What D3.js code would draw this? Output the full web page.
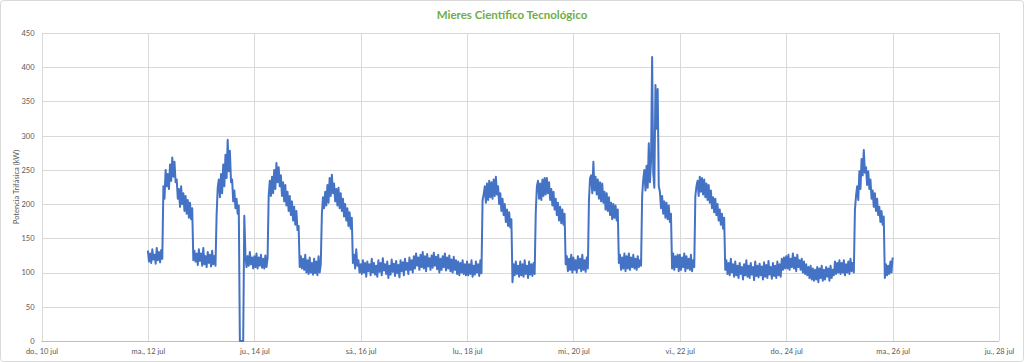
<!DOCTYPE html>
<meta charset="utf-8">
<script src="https://cdn.jsdelivr.net/npm/d3@7"></script>

<style>
  body { margin: 0; background: #fff; }
  .grid line { stroke: #d9d9d9; stroke-width: 1; shape-rendering: crispEdges; }
  .axis text { font-family: Lato, "Open Sans", sans-serif; font-size: 7.5px; fill: #595959; }
  .axis path, .axis line { display: none; }
</style>

<svg></svg>

<script>

// DATA - readings (kW) every 30 min (hh:00, hh:30 per hour)

var jul12 = [132,116, 128,114, 134,119, 126,113, 136,118, 130,115, 133,120,
             226,208, 250,226, 244,222, 258,234, 268,240, 262,232, 236,208, 222,196, 226,200, 216,190, 212,186, 206,180, 202,178,
             194,118, 132,116, 128,111, 134,117];
var jul13 = [128,110, 136,112, 124,108, 130,114, 126,109, 132,112, 124,110,
             184,224, 236,210, 244,216, 258,226, 272,238, 294,248, 278,232, 236,204, 220,194, 208,186, 198,0, 0,0, 0,183,
             126,108, 124,110, 130,112, 122,106];
var jul14 = [124,108, 128,106, 122,110, 126,107, 120,106, 125,108, 121,212,
             234,212, 240,216, 250,222, 260,232, 254,226, 242,212, 232,204, 228,198, 218,190, 212,184, 204,176, 196,170, 190,162,
             168,108, 124,106, 120,104, 126,100];
var jul15 = [118,98, 122,100, 114,97, 120,99, 116,96, 124,100, 112,186,
             210,194, 218,198, 228,202, 238,212, 243,216, 230,204, 222,198, 224,194, 216,190, 208,182, 200,176, 194,168, 188,164,
             180,114, 126,106, 134,110, 118,100];
var jul16 = [112,98, 118,100, 114,94, 116,102, 112,96, 120,100, 114,97, 110,94, 118,101, 114,96, 121,103, 112,98,
             116,92, 110,97, 119,101, 113,95, 117,99, 111,93, 118,102, 115,96, 120,104, 114,98, 122,104, 118,100];
var jul17 = [124,106, 128,110, 122,104, 126,108, 130,106, 124,102, 127,109, 121,104, 125,107, 129,110, 123,105, 126,100,
             120,104, 124,108, 128,103, 122,106, 125,102, 119,100, 123,104, 118,98, 116,96, 114,100, 118,98, 112,96];
var jul18 = [116,96, 112,98, 118,94, 110,97, 116,100, 112,95, 118,99,
             206,214, 226,202, 230,206, 234,210, 232,208, 236,212, 240,214, 226,200, 216,190, 208,184, 200,174, 192,168, 188,166,
             178,86, 112,96, 116,98, 110,94];
var jul19 = [116,96, 112,94, 118,98, 110,92, 116,97, 112,95, 114,98,
             188,226, 234,208, 230,206, 236,212, 238,214, 238,216, 232,206, 222,198, 218,192, 208,184, 202,176, 196,172, 192,170,
             186,112, 124,102, 120,104, 126,100];
var jul20 = [122,104, 118,100, 124,106, 120,102, 126,104, 118,101, 122,106,
             206,238, 242,216, 262,220, 240,214, 236,208, 232,204, 230,202, 218,192, 216,190, 210,184, 202,178, 200,180, 198,176,
             192,114, 126,104, 122,106, 128,102];
var jul21 = [124,106, 128,104, 122,108, 126,106, 120,104, 124,108, 118,110,
             212,236, 250,220, 256,224, 289,232, 262,415, 246,224, 374,310, 368,226, 218,194, 212,186, 204,180, 202,178, 198,174,
             186,106, 128,104, 124,108, 126,102];
var jul22 = [126,104, 122,108, 128,102, 124,106, 120,104, 126,102, 118,108,
             212,226, 234,212, 240,218, 238,214, 236,210, 230,206, 228,202, 220,194, 210,188, 208,184, 200,176, 192,170, 186,164,
             180,104, 118,98, 114,96, 120,100];
var jul23 = [112,94, 116,96, 110,92, 114,98, 108,90, 112,96, 118,94, 110,92, 114,97, 108,89, 116,95, 110,93,
             113,96, 109,90, 115,94, 111,92, 117,97, 108,91, 114,95, 110,92, 116,96, 112,94, 120,104, 122,106];
var jul24 = [124,106, 126,104, 120,108, 128,106, 122,102, 126,108, 118,104, 120,100, 116,98, 112,96, 108,92, 110,90,
             106,88, 104,90, 108,86, 106,92, 110,88, 104,90, 108,94, 106,88, 110,92, 104,96, 116,98, 114,100];
var jul25 = [118,98, 114,100, 118,96, 112,100, 116,98, 120,102, 114,100,
             192,212, 226,206, 248,222, 266,242, 279,246, 254,228, 248,222, 236,208, 220,196, 216,190, 208,184, 196,174, 190,170,
             182,92, 112,96, 110,98, 116,100];
var jul26 = [122];

var days = [jul12, jul13, jul14, jul15, jul16, jul17, jul18, jul19, jul20, jul21, jul22, jul23, jul24, jul25, jul26];

var yTicks = [0, 50, 100, 150, 200, 250, 300, 350, 400, 450];
var xTickLabels = ["do., 10 jul", "ma., 12 jul", "ju., 14 jul", "sá., 16 jul", "lu., 18 jul",
                   "mi., 20 jul", "vi., 22 jul", "do., 24 jul", "ma., 26 jul", "ju., 28 jul"];
var xTickDays = [10, 12, 14, 16, 18, 20, 22, 24, 26, 28];

var title = "Mieres Científico Tecnológico";
var yTitle = "Potencia Trifásica (kW)";


// GLOBALS

var width = 1024;
var height = 362;

var plot = { left: 41.5, right: 999, top: 33, bottom: 341 };

var series = [];
days.forEach(function(day, i) {
  day.forEach(function(v, k) {
    series.push({ date: new Date(2022, 6, 12 + i, 0, 30 * k), value: v });
  });
});


// SVG SETUP

var svg = d3.select("svg")
    .attr("width", width)
    .attr("height", height);

svg.append("rect")
    .attr("x", 0.5)
    .attr("y", 0.5)
    .attr("width", width - 1)
    .attr("height", height - 1)
    .attr("rx", 3)
    .attr("fill", "#fff")
    .attr("stroke", "#d9d9d9");


// SCALES

var xScale = d3.scaleTime()
    .domain([new Date(2022, 6, 10), new Date(2022, 6, 28)])
    .range([plot.left, plot.right]);

var yScale = d3.scaleLinear()
    .domain([0, 450])
    .range([plot.bottom, plot.top]);

var xTicks = xTickDays.map(function(d) { return new Date(2022, 6, d); });


// GRID

svg.append("g")
    .attr("class", "grid")
    .selectAll("line")
    .data(yTicks)
    .enter().append("line")
        .attr("x1", plot.left)
        .attr("x2", plot.right)
        .attr("y1", function(d) { return Math.round(yScale(d)) + 0.5; })
        .attr("y2", function(d) { return Math.round(yScale(d)) + 0.5; });

svg.append("g")
    .attr("class", "grid")
    .selectAll("line")
    .data(xTicks)
    .enter().append("line")
        .attr("x1", function(d) { return Math.round(xScale(d)) + 0.5; })
        .attr("x2", function(d) { return Math.round(xScale(d)) + 0.5; })
        .attr("y1", plot.top)
        .attr("y2", plot.bottom);

// bottom axis line
svg.append("line")
    .attr("x1", plot.left)
    .attr("x2", plot.right)
    .attr("y1", plot.bottom + 0.5)
    .attr("y2", plot.bottom + 0.5)
    .attr("stroke", "#bfbfbf");


// AXES

svg.append("g")
    .attr("class", "axis")
    .attr("transform", "translate(" + plot.left + ",0)")
    .call(d3.axisLeft(yScale).tickValues(yTicks).tickSize(0).tickPadding(7));

svg.append("g")
    .attr("class", "axis")
    .attr("transform", "translate(0," + plot.bottom + ")")
    .call(d3.axisBottom(xScale)
        .tickValues(xTicks)
        .tickSize(0)
        .tickPadding(8)
        .tickFormat(function(d, i) { return xTickLabels[i]; }));


// LINE

var line = d3.line()
    .x(function(d) { return xScale(d.date); })
    .y(function(d) { return yScale(d.value); });

svg.append("path")
    .datum(series)
    .attr("fill", "none")
    .attr("stroke", "#4472c4")
    .attr("stroke-width", 2)
    .attr("stroke-linejoin", "round")
    .attr("d", line);


// TITLES

svg.append("text")
    .attr("x", 512)
    .attr("y", 19)
    .attr("text-anchor", "middle")
    .style("fill", "#70ad47")
    .style("font-size", "11.5px")
    .style("font-weight", "bold")
    .style("font-family", "Lato, sans-serif")
    .text(title);

svg.append("text")
    .attr("transform", "translate(19," + ((plot.top + plot.bottom) / 2) + ") rotate(-90)")
    .attr("text-anchor", "middle")
    .style("fill", "#595959")
    .style("font-size", "7.5px")
    .style("font-family", "Lato, sans-serif")
    .text(yTitle);

</script>
